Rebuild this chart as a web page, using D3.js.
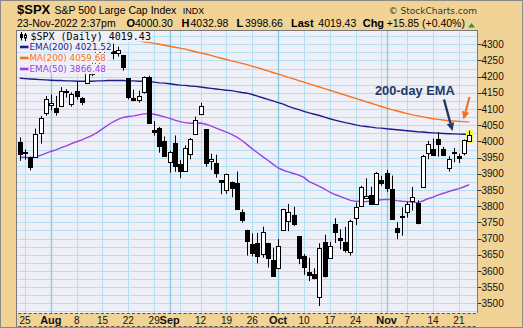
<!DOCTYPE html>
<html>
<head>
<meta charset="utf-8">
<script src="https://cdn.jsdelivr.net/npm/d3@7"></script>
<style>
  html, body { margin: 0; padding: 0; background: #fff; }
  svg { display: block; }
  text { font-family: "Liberation Sans", Arial, sans-serif; }
</style>
</head>
<body>
<div class="chart"></div>
<script>
const dates = [
  '2022-07-22','2022-07-25','2022-07-26','2022-07-27','2022-07-28','2022-07-29',
  '2022-08-01','2022-08-02','2022-08-03','2022-08-04','2022-08-05','2022-08-08','2022-08-09','2022-08-10',
  '2022-08-11','2022-08-12','2022-08-15','2022-08-16','2022-08-17','2022-08-18','2022-08-19','2022-08-22',
  '2022-08-23','2022-08-24','2022-08-25','2022-08-26','2022-08-29','2022-08-30','2022-08-31',
  '2022-09-01','2022-09-02','2022-09-06','2022-09-07','2022-09-08','2022-09-09','2022-09-12','2022-09-13',
  '2022-09-14','2022-09-15','2022-09-16','2022-09-19','2022-09-20','2022-09-21','2022-09-22','2022-09-23',
  '2022-09-26','2022-09-27','2022-09-28','2022-09-29','2022-09-30',
  '2022-10-03','2022-10-04','2022-10-05','2022-10-06','2022-10-07','2022-10-10','2022-10-11','2022-10-12',
  '2022-10-13','2022-10-14','2022-10-17','2022-10-18','2022-10-19','2022-10-20','2022-10-21','2022-10-24',
  '2022-10-25','2022-10-26','2022-10-27','2022-10-28','2022-10-31',
  '2022-11-01','2022-11-02','2022-11-03','2022-11-04','2022-11-07','2022-11-08','2022-11-09','2022-11-10',
  '2022-11-11','2022-11-14','2022-11-15','2022-11-16','2022-11-17','2022-11-18','2022-11-21','2022-11-22',
  '2022-11-23'
]

const open = [
  3998.43, 3965.72, 3953.22, 3951.43, 4026.13, 4087.33,
  4112.38, 4104.21, 4107.96, 4154.85, 4115.87, 4155.93, 4133.11, 4181.02, 4227.40, 4225.02, 4269.37, 4290.46,
  4280.40, 4273.13, 4266.31, 4195.08, 4133.09, 4126.55, 4153.26, 4198.74, 4034.58, 4041.25, 4000.67,
  3936.73, 3994.66, 3930.89, 3909.43, 3959.94, 4022.94, 4083.67, 4037.12, 3940.73, 3932.41, 3880.95, 3849.91,
  3875.23, 3871.40, 3782.36, 3727.14, 3682.72, 3686.44, 3651.94, 3687.01, 3633.48,
  3609.78, 3726.46, 3753.25, 3771.97, 3706.74, 3647.51, 3595.86, 3590.83, 3520.37, 3690.41, 3638.65, 3746.26,
  3703.11, 3689.05, 3657.10, 3762.01, 3799.44, 3825.97, 3834.69, 3808.26, 3881.85,
  3901.79, 3852.90, 3733.25, 3766.98, 3780.71, 3817.02, 3810.94, 3859.89, 3963.72, 3977.97, 4006.41, 3976.82,
  3919.26, 3966.39, 3956.23, 3965.51, 4000.30
]
const high = [
  4012.44, 3975.30, 3953.22, 4039.56, 4078.95, 4140.15,
  4144.95, 4140.47, 4167.66, 4161.29, 4151.58, 4186.62, 4137.30, 4211.03, 4257.91, 4280.47, 4301.79, 4325.28,
  4302.18, 4292.53, 4266.31, 4195.08, 4159.77, 4156.56, 4200.54, 4203.04, 4062.99, 4044.98, 4015.37,
  3970.23, 4018.43, 3942.55, 3987.89, 4010.50, 4076.81, 4119.28, 4037.12, 3961.94, 3959.14, 3880.95, 3900.45,
  3876.01, 3907.07, 3790.25, 3727.14, 3715.67, 3717.53, 3736.74, 3687.01, 3671.44,
  3698.35, 3791.92, 3806.91, 3797.93, 3706.74, 3652.17, 3640.66, 3608.34, 3685.41, 3712.00, 3689.73, 3762.79,
  3728.58, 3736.00, 3757.89, 3810.74, 3862.85, 3886.15, 3859.95, 3905.42, 3893.73,
  3911.79, 3894.44, 3750.59, 3796.34, 3813.95, 3859.40, 3818.20, 3958.33, 4001.48, 4008.97, 4028.84, 3983.09,
  3954.33, 3979.89, 3962.00, 4005.88, 4032.98
]
const low = [
  3940.00, 3943.46, 3910.74, 3951.43, 3992.97, 4079.22,
  4096.02, 4079.81, 4107.96, 4135.42, 4107.31, 4128.97, 4112.09, 4177.26, 4201.41, 4219.78, 4256.90, 4277.77,
  4253.08, 4261.98, 4218.70, 4129.86, 4124.03, 4119.97, 4147.59, 4057.66, 4017.42, 3965.21, 3954.53,
  3903.65, 3906.21, 3886.75, 3906.03, 3944.81, 4022.94, 4083.67, 3921.73, 3912.52, 3888.28, 3837.08, 3838.50,
  3827.54, 3789.49, 3749.45, 3647.47, 3644.76, 3623.29, 3640.61, 3610.40, 3584.13,
  3604.93, 3726.46, 3722.66, 3739.22, 3620.73, 3588.10, 3568.45, 3573.86, 3491.58, 3579.68, 3638.65, 3686.53,
  3666.51, 3656.44, 3647.42, 3741.65, 3799.44, 3824.07, 3803.79, 3808.26, 3863.18,
  3843.80, 3758.68, 3698.15, 3708.84, 3764.70, 3786.28, 3744.22, 3859.89, 3944.82, 3956.40, 3953.17, 3954.34,
  3906.54, 3935.98, 3933.34, 3956.88, 3998.66
]
const close = [
  3961.63, 3966.84, 3921.05, 4023.61, 4072.43, 4130.29,
  4118.63, 4091.19, 4155.17, 4151.94, 4145.19, 4140.06, 4122.47, 4210.24, 4207.27, 4280.15, 4297.14, 4305.20,
  4274.04, 4283.74, 4228.48, 4137.99, 4128.73, 4140.77, 4199.12, 4057.66, 4030.61, 3986.16, 3955.00,
  3966.85, 3924.26, 3908.19, 3979.87, 4006.18, 4067.36, 4110.41, 3932.69, 3946.01, 3901.35, 3873.33, 3899.89,
  3855.93, 3789.93, 3757.99, 3693.23, 3655.04, 3647.29, 3719.04, 3640.47, 3585.62,
  3678.43, 3790.93, 3783.28, 3744.52, 3639.66, 3612.39, 3588.84, 3577.03, 3669.91, 3583.07, 3677.95, 3719.98,
  3695.16, 3665.78, 3752.75, 3797.34, 3859.11, 3830.60, 3807.30, 3901.06, 3871.98,
  3856.10, 3759.69, 3719.89, 3770.55, 3806.80, 3828.11, 3748.57, 3956.37, 3992.93, 3957.25, 3991.73, 3958.79,
  3946.56, 3965.34, 3949.94, 4003.58, 4019.43
]

// overlays, one value per trading day
const ema200 = [
  4195, 4194, 4193, 4192, 4191, 4190, 4189, 4188, 4188, 4187,
  4187, 4186, 4186, 4186, 4186, 4187, 4187, 4188, 4188, 4188,
  4188, 4187, 4187, 4186, 4186, 4185, 4183, 4181, 4180, 4178,
  4176, 4174, 4173, 4171, 4170, 4168, 4166, 4164, 4162, 4160,
  4158, 4157, 4154, 4151, 4149, 4145, 4140, 4135, 4130, 4125,
  4120, 4115, 4108, 4103, 4098, 4093, 4088, 4084, 4080, 4075,
  4070, 4066, 4062, 4058, 4055, 4051, 4048, 4046, 4044, 4042,
  4041, 4039, 4037.5, 4036, 4034.5, 4033, 4031.5, 4030, 4029, 4027.5,
  4026.5, 4025.5, 4024.5, 4023.8, 4023.2, 4022.6, 4022, 4021.52
]
const ma200 = [
  4377, 4374, 4371, 4368, 4366, 4363, 4360, 4357, 4354, 4351,
  4348, 4345, 4342, 4339, 4336, 4333, 4330, 4327, 4324, 4321,
  4318, 4316, 4313, 4311, 4308, 4306, 4303, 4300, 4297, 4294,
  4291, 4288, 4285, 4281, 4277, 4273, 4270, 4266, 4261, 4257,
  4253, 4249, 4245, 4241, 4237, 4232, 4228, 4223, 4218, 4213,
  4208, 4203, 4198, 4193, 4188, 4183, 4178, 4173, 4168, 4163,
  4158, 4153, 4148, 4143, 4138, 4133, 4128, 4123, 4118, 4113,
  4108, 4103, 4098, 4094, 4090, 4086, 4082, 4079, 4076, 4073,
  4070, 4068, 4066, 4064, 4063, 4062, 4061, 4059.68
]
const ema50 = [
  3951, 3951, 3950, 3952, 3957, 3963, 3969, 3974, 3981, 3986,
  3993, 3999, 4005, 4012, 4019, 4028, 4039, 4050, 4060, 4068,
  4074, 4077, 4079, 4082, 4085, 4086, 4084, 4080, 4076, 4071,
  4066, 4061, 4058, 4056, 4056, 4057, 4053, 4048, 4041, 4035,
  4029, 4022, 4013, 4003, 3990, 3977, 3965, 3953, 3942, 3930,
  3918, 3911, 3906, 3901, 3896, 3889, 3876, 3869, 3861, 3853,
  3843, 3836, 3830, 3824, 3818, 3815, 3814, 3814, 3816, 3818,
  3820, 3821, 3820, 3817, 3815, 3814, 3813, 3811, 3816, 3823,
  3828, 3835, 3840, 3845, 3850, 3854, 3860, 3866.48
]

const yTicks = d3.range(3500, 4301, 50)
const monthNames = ['Jul', 'Aug', 'Sep', 'Oct', 'Nov']

// ===== layout =====
const W = 523, H = 328
const plot = { left: 17, right: 477, top: 30, bottom: 313 }
const tan = '#f1d396', plotBg = '#eff0f7'
const navy = '#1c1c8a', orange = '#f7731f', purple = '#9b40e4'

const parse = d3.timeParse('%Y-%m-%d')
const days = dates.map(parse)

const x = d3.scaleLinear().domain([-0.55, 88.5]).range([plot.left, plot.right])
const y = d3.scaleLinear().domain([3500, 4300]).range([303.3, 44.3])

const svg = d3.select('.chart')
  .append('svg')
    .attr('width', W)
    .attr('height', H)

svg.append('rect')
  .attr('x', 0.5).attr('y', 0.5)
  .attr('width', W - 1).attr('height', H - 1)
  .style('fill', tan)
  .style('stroke', '#8a8a8a')

svg.append('rect')
  .attr('x', plot.left).attr('y', plot.top)
  .attr('width', plot.right - plot.left)
  .attr('height', plot.bottom - plot.top)
  .style('fill', plotBg)

svg.append('clipPath').attr('id', 'clip')
  .append('rect')
    .attr('x', plot.left).attr('y', plot.top)
    .attr('width', plot.right - plot.left)
    .attr('height', plot.bottom - plot.top)

const g = svg.append('g').attr('clip-path', 'url(#clip)')

// ---- grid: every 25 points, week starts and month starts ----
g.selectAll('.hgrid')
  .data(d3.range(3475, 4350, 25))
  .enter().append('line')
    .attr('x1', plot.left).attr('x2', plot.right)
    .attr('y1', d => Math.round(y(d)) + 0.5)
    .attr('y2', d => Math.round(y(d)) + 0.5)
    .style('stroke', '#b3e0f0')

const weekIdx = [], monthIdx = []
days.forEach((d, i) => {
  if (i === 0) return
  if (+d3.timeMonday.floor(d) !== +d3.timeMonday.floor(days[i - 1])) weekIdx.push(i)
  if (d.getMonth() !== days[i - 1].getMonth()) monthIdx.push(i)
})

g.selectAll('.wgrid')
  .data(weekIdx.filter(i => !monthIdx.includes(i)))
  .enter().append('line')
    .attr('x1', i => Math.round(x(i)) + 0.5)
    .attr('x2', i => Math.round(x(i)) + 0.5)
    .attr('y1', plot.top).attr('y2', plot.bottom)
    .style('stroke', '#b3e0f0')

g.selectAll('.mgrid')
  .data(monthIdx)
  .enter().append('line')
    .attr('x1', i => Math.round(x(i)) + 0.5)
    .attr('x2', i => Math.round(x(i)) + 0.5)
    .attr('y1', plot.top).attr('y2', plot.bottom)
    .style('stroke', '#86c6e6')
    .style('stroke-width', 1.3)

// ---- overlays ----
const line = d3.line().x((d, i) => x(i)).y(d => y(d))
const overlays = [
  { values: ma200, color: orange },
  { values: ema200, color: navy },
  { values: ema50, color: purple }
]
overlays.forEach(o => {
  g.append('path')
    .attr('d', line(o.values))
    .style('fill', 'none')
    .style('stroke', o.color)
    .style('stroke-width', 1.4)
})

// highlight behind the latest bar
const last = dates.length - 1
g.append('rect')
  .attr('x', Math.round(x(last)) - 3)
  .attr('y', Math.round(y(high[last])) - 1)
  .attr('width', 7)
  .attr('height', Math.round(y(low[last])) - Math.round(y(high[last])) + 2)
  .style('fill', '#f8f55a')

// ---- candles ----
const candles = g.selectAll('.candle')
  .data(dates.map((d, i) => i))
  .enter().append('g')

candles.append('line')
  .attr('x1', i => Math.round(x(i)) + 0.5)
  .attr('x2', i => Math.round(x(i)) + 0.5)
  .attr('y1', i => y(high[i]))
  .attr('y2', i => y(low[i]))
  .style('stroke', '#000')

candles.append('rect')
  .attr('x', i => Math.round(x(i)) - 1.5)
  .attr('y', i => Math.round(y(Math.max(open[i], close[i]))) + 0.5)
  .attr('width', 4)
  .attr('height', i => Math.max(0, Math.round(y(Math.min(open[i], close[i]))) - Math.round(y(Math.max(open[i], close[i])))))
  .style('fill', i => close[i] >= open[i] ? '#fff' : '#000')
  .style('stroke', '#000')

// ---- legend (each row on its own plot-coloured box) ----
const legend = svg.append('g')
const rows = [
  { label: '$SPX (Daily) 4019.43', color: '#000', mono: true, cy: 36.5 },
  { label: 'EMA(200) 4021.52', color: navy, cy: 47 },
  { label: 'MA(200) 4059.68', color: orange, cy: 58 },
  { label: 'EMA(50) 3866.48', color: purple, cy: 69 }
]
rows.forEach(r => {
  const row = legend.append('g')
  const bg = row.append('rect').style('fill', plotBg)
  if (r.mono) {
    // little candlestick glyph
    row.append('line').attr('x1', 21.5).attr('x2', 21.5).attr('y1', r.cy - 4.5).attr('y2', r.cy + 4).style('stroke', '#000')
    row.append('rect').attr('x', 20).attr('y', r.cy - 2.5).attr('width', 3).attr('height', 4).style('fill', '#000')
    row.append('line').attr('x1', 25.5).attr('x2', 25.5).attr('y1', r.cy - 3.5).attr('y2', r.cy + 4.5).style('stroke', '#000')
    row.append('rect').attr('x', 24.5).attr('y', r.cy - 1.5).attr('width', 2).attr('height', 3).style('fill', '#fff').style('stroke', '#000')
  } else {
    row.append('line')
      .attr('x1', 20).attr('x2', 28.5)
      .attr('y1', r.cy).attr('y2', r.cy)
      .style('stroke', r.color)
      .style('stroke-width', 2.6)
  }
  row.append('text')
    .attr('x', r.mono ? 30.5 : 29.5)
    .attr('y', r.cy + 3.4)
    .style('font-family', r.mono ? '"DejaVu Sans Mono", monospace' : '"DejaVu Sans", sans-serif')
    .style('font-size', r.mono ? '10px' : '8.8px')
    .style('fill', r.color)
    .text(r.label)
  const b = row.node().getBBox()
  bg.attr('x', plot.left + 1).attr('y', r.cy - 5.2)
    .attr('width', b.x + b.width - plot.left).attr('height', 10.4)
})

// ---- annotation ----
svg.append('text')
  .attr('x', 375).attr('y', 94.5)
  .style('font-size', '12.8px')
  .style('font-weight', 'bold')
  .style('fill', '#1f3864')
  .text('200-day EMA')

const arrow = (x1, y1, x2, y2, color, w) => {
  const a = Math.atan2(y2 - y1, x2 - x1), len = 8, hw = 3.8
  const bx = x2 - len * Math.cos(a), by = y2 - len * Math.sin(a)
  svg.append('line')
    .attr('x1', x1).attr('y1', y1).attr('x2', bx).attr('y2', by)
    .style('stroke', color).style('stroke-width', w)
  svg.append('path')
    .attr('d', d3.line()([
      [x2, y2],
      [bx + hw * Math.sin(a), by - hw * Math.cos(a)],
      [bx - hw * Math.sin(a), by + hw * Math.cos(a)]
    ]) + 'Z')
    .style('fill', color)
}
arrow(444, 99.5, 452.5, 131, '#1f3864', 2.4)
arrow(469.5, 97, 463.5, 119.5, '#f07222', 2.2)

// ---- plot frame ----
svg.append('line').attr('x1', plot.left).attr('x2', plot.right + 0.5)
  .attr('y1', plot.top + 0.5).attr('y2', plot.top + 0.5).style('stroke', '#7a7a7a')
svg.append('line').attr('x1', plot.right + 0.5).attr('x2', plot.right + 0.5)
  .attr('y1', plot.top).attr('y2', plot.bottom).style('stroke', '#7a7a7a')
svg.append('line').attr('x1', plot.left - 0.5).attr('x2', plot.left - 0.5)
  .attr('y1', plot.top).attr('y2', 327).style('stroke', '#7a7a7a')

// dashed day ticks along the date strip
;[plot.bottom + 0.5, 326.5].forEach(yy => {
  svg.append('g').selectAll('line')
    .data(d3.range(-0.5, 88.5))
    .enter().append('line')
      .attr('x1', i => x(i) + 1).attr('x2', i => x(i) + 4)
      .attr('y1', yy).attr('y2', yy)
      .style('stroke', '#555')
})

// ---- right price axis ----
const yAxis = svg.append('g')
yAxis.selectAll('line')
  .data(yTicks)
  .enter().append('line')
    .attr('x1', plot.right + 1).attr('x2', plot.right + 4.5)
    .attr('y1', d => Math.round(y(d)) + 0.5).attr('y2', d => Math.round(y(d)) + 0.5)
    .style('stroke', '#333')
yAxis.selectAll('text')
  .data(yTicks)
  .enter().append('text')
    .attr('x', plot.right + 4.5)
    .attr('y', d => y(d))
    .attr('dy', '0.36em')
    .style('font-size', '10px')
    .style('fill', '#111')
    .text(d => d)

// ---- date labels: week starts (skipped next to a month label) and month starts ----
const xAxis = svg.append('g')
xAxis.selectAll('.day')
  .data(weekIdx.filter(i => !monthIdx.some(m => Math.abs(m - i) < 3)))
  .enter().append('text')
    .attr('x', i => x(i))
    .attr('y', 323.5)
    .attr('text-anchor', 'middle')
    .style('font-size', '10px')
    .style('fill', '#111')
    .text(i => d3.timeFormat('%-d')(days[i]))
xAxis.selectAll('.month')
  .data(monthIdx)
  .enter().append('text')
    .attr('x', i => x(i))
    .attr('y', 323.5)
    .attr('text-anchor', 'middle')
    .style('font-size', '11px')
    .style('font-weight', 'bold')
    .style('fill', '#111')
    .text(i => monthNames[days[i].getMonth() - 6])

// ---- header ----
const hdr = svg.append('g').style('fill', '#000')
hdr.append('text').attr('x', 17).attr('y', 14.2)
  .style('font-size', '13px').style('font-weight', 'bold').text('$SPX')
hdr.append('text').attr('x', 54.5).attr('y', 14)
  .style('font-size', '10.5px').text('S&P 500 Large Cap Index')
hdr.append('text').attr('x', 182.7).attr('y', 14)
  .style('font-size', '9px').text('INDX')
hdr.append('text').attr('x', 477).attr('y', 13.5).attr('text-anchor', 'end')
  .style('font-family', '"DejaVu Sans", sans-serif')
  .style('font-size', '9px').style('fill', '#333').text('\u00a9 StockCharts.com')

const quote = [
  { x: 17, t: '23-Nov-2022 2:37pm' },
  { x: 126.5, t: 'O', b: true }, { x: 135, t: '4000.30' },
  { x: 181.5, t: 'H', b: true }, { x: 190.5, t: '4032.98' },
  { x: 236.5, t: 'L', b: true }, { x: 245, t: '3998.66' },
  { x: 291, t: 'Last', b: true }, { x: 318.3, t: '4019.43' },
  { x: 362.7, t: 'Chg', b: true }, { x: 386.7, t: '+15.85 (+0.40%)' }
]
quote.forEach(q => {
  hdr.append('text').attr('x', q.x).attr('y', 27.2)
    .style('font-size', q.b ? '11px' : '10.5px')
    .style('font-weight', q.b ? 'bold' : 'normal')
    .text(q.t)
})
hdr.append('path')
  .attr('d', 'M468,27.5L475,27.5L471.5,23Z')
  .style('fill', '#2f9a3a')
</script>
</body>
</html>
